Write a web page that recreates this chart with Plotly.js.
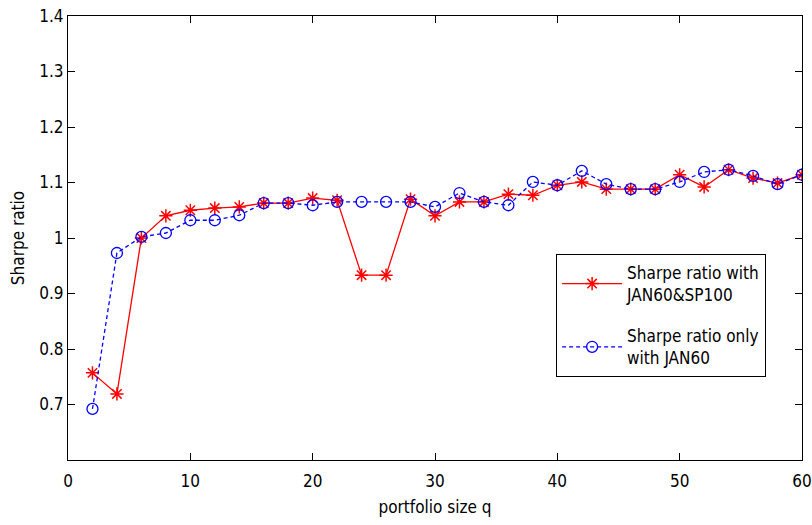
<!DOCTYPE html>
<html>
<head>
<meta charset="utf-8">
<script src="https://cdn.plot.ly/plotly-3.0.1.min.js"></script>
<style>html,body{margin:0;padding:0;background:#fff;}#chart{width:812px;height:525px;}</style>
</head>
<body>
<div id="chart"></div>
<script>
const portfolioSize = [2,4,6,8,10,12,14,16,18,20,22,24,26,28,30,32,34,36,38,40,42,44,46,48,50,52,54,56,58,60];
const sharpeJan60Sp100 = [0.757,0.719,1.000,1.040,1.050,1.054,1.056,1.063,1.063,1.072,1.068,0.933,0.933,1.070,1.040,1.065,1.065,1.079,1.077,1.095,1.101,1.088,1.088,1.088,1.114,1.092,1.123,1.108,1.099,1.114];
const sharpeJan60Only = [0.692,0.973,1.002,1.009,1.032,1.032,1.041,1.063,1.063,1.059,1.065,1.065,1.065,1.065,1.056,1.081,1.065,1.059,1.101,1.095,1.121,1.097,1.088,1.088,1.101,1.119,1.123,1.112,1.097,1.114];
const seriesNames = ['Sharpe ratio with<br>JAN60&SP100', 'Sharpe ratio only<br>with JAN60'];

const fontFam = '"DejaVu Sans Condensed", "Liberation Sans Narrow", "Arial Narrow", sans-serif';

const traces = [
  {
    x: portfolioSize, y: sharpeJan60Sp100, name: seriesNames[0], legendgroup: 'g1',
    type: 'scatter', mode: 'lines+markers',
    line: {color: '#ff0000', width: 1.3},
    marker: {symbol: 'asterisk-open', size: 11, color: '#ff0000', line: {color: '#ff0000', width: 1.5}}
  },
  {
    x: portfolioSize, y: sharpeJan60Only, name: seriesNames[1], legendgroup: 'g2',
    type: 'scatter', mode: 'lines+markers',
    line: {color: '#0000ff', width: 1.3, dash: '4px,3px'},
    marker: {symbol: 'circle-open', size: 11, color: '#0000ff', line: {color: '#0000ff', width: 1.3}}
  }
];

const axisCommon = {
  showgrid: false, zeroline: false, showline: true, mirror: 'ticks',
  linecolor: '#000', linewidth: 1, ticks: 'inside', ticklen: 7, tickcolor: '#000',
  tickfont: {family: fontFam, size: 17, color: '#000'}
};

const layout = {
  width: 812, height: 525,
  margin: {l: 68, r: 10, t: 16, b: 65},
  paper_bgcolor: '#fff', plot_bgcolor: '#fff',
  showlegend: true,
  xaxis: Object.assign({}, axisCommon, {
    range: [0, 60], tickvals: [0,10,20,30,40,50,60],
    ticklabelstandoff: 6,
    title: {text: 'portfolio size q', font: {family: fontFam, size: 17, color: '#000'}, standoff: 10}
  }),
  yaxis: Object.assign({}, axisCommon, {
    range: [0.6, 1.4], tickvals: [0.7,0.8,0.9,1,1.1,1.2,1.3,1.4], ticktext: ['0.7','0.8','0.9','1','1.1','1.2','1.3','1.4'],
    title: {text: 'Sharpe ratio', font: {family: fontFam, size: 17, color: '#000'}, standoff: 10}
  }),
  legend: {
    x: 0.665, y: 0.464, xanchor: 'left', yanchor: 'top',
    bgcolor: '#fff', bordercolor: '#000', borderwidth: 1,
    font: {family: fontFam, size: 17, color: '#000'},
    itemwidth: 60, tracegroupgap: 16
  }
};

Plotly.newPlot('chart', traces, layout, {displayModeBar: false, staticPlot: true});
</script>
</body>
</html>
